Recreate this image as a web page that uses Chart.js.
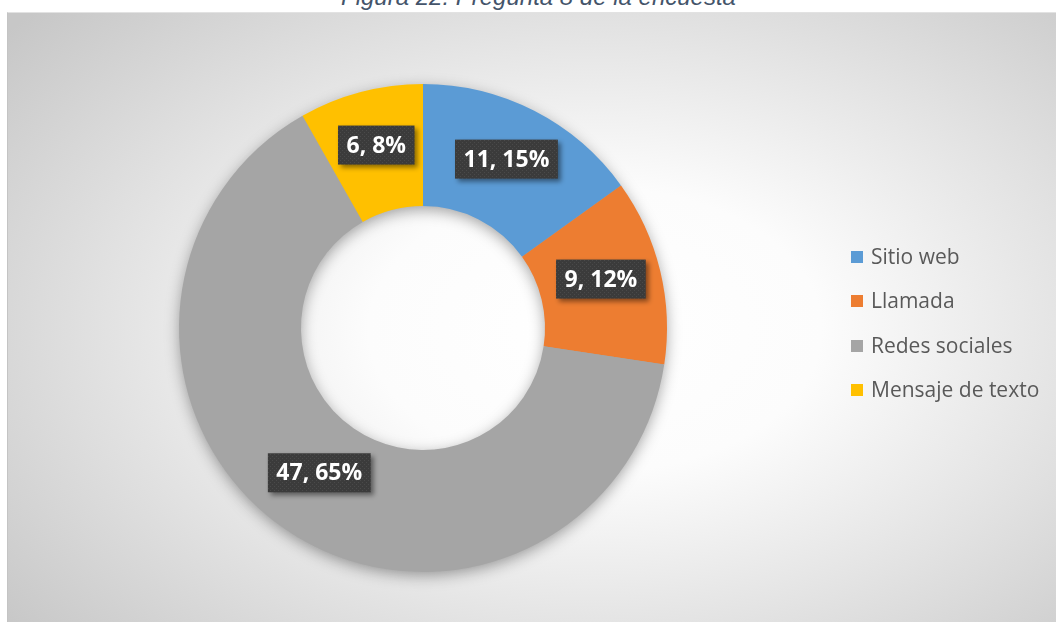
<!DOCTYPE html>
<html lang="es">
<head>
<meta charset="utf-8">
<title>Pregunta 8 de la encuesta</title>
<script src="https://cdn.jsdelivr.net/npm/chart.js@4.4.1/dist/chart.umd.min.js"></script>
<style>
  html, body { margin: 0; padding: 0; background: #fff; }
  body { width: 1056px; height: 622px; position: relative; overflow: hidden; }
  #caption {
    position: absolute; left: 0; width: 1077px; top: -15px;
    text-align: center; font: italic 24px/24px "Liberation Sans", Arial, sans-serif;
    color: #44546a;
  }
  #panel {
    position: absolute; left: 7px; top: 12px; width: 1049px; height: 610px;
    background: radial-gradient(ellipse 72% 78% at 56% 52%, #ffffff 0%, #fcfcfc 30%, #e4e4e4 62%, #c7c7c7 100%);
    border-left: 1px solid #c4c4c4; border-top: 1px solid #e2e2e2;
    box-sizing: border-box;
  }
  #chart { position: absolute; left: 0; top: 0; }
  #legend {
    position: absolute; left: 851px; top: 249px; margin: 0; padding: 0; list-style: none;
    font: 21px "Open Sans", sans-serif; color: #595959;
  }
  #legend li { height: 44.3px; display: flex; align-items: flex-start; }
  #legend span.box { width: 12px; height: 12px; margin: 2px 8px 0 0; flex: none; }
  #legend li div { line-height: 21px; margin-top: -3px; }
</style>
</head>
<body>
<div id="caption">Figura 22: Pregunta 8 de la encuesta</div>
<div id="panel"></div>
<canvas id="chart" width="1056" height="622"></canvas>
<ul id="legend"></ul>
<script>
const labels = ["Sitio web", "Llamada", "Redes sociales", "Mensaje de texto"];
const counts = [11, 9, 47, 6];
const percents = [15, 12, 65, 8];
const colors = ["#5b9bd5", "#ed7d31", "#a5a5a5", "#ffc000"];

// legend on the right, built from the same arrays
const legendEl = document.getElementById("legend");
labels.forEach((label, i) => {
  const li = document.createElement("li");
  const box = document.createElement("span");
  box.className = "box";
  box.style.background = colors[i];
  const text = document.createElement("div");
  text.textContent = label;
  li.appendChild(box);
  li.appendChild(text);
  legendEl.appendChild(li);
});

// dark dotted fill used behind the data labels
function makeLabelPattern(ctx) {
  const tile = document.createElement("canvas");
  tile.width = 4;
  tile.height = 4;
  const t = tile.getContext("2d");
  t.fillStyle = "#3b3b3b";
  t.fillRect(0, 0, 4, 4);
  t.fillStyle = "#4a4a4a";
  t.fillRect(0, 0, 1, 1);
  t.fillRect(2, 2, 1, 1);
  return ctx.createPattern(tile, "repeat");
}

// soft shadow under the whole ring, drawn once so slices don't shade each other
const ringShadow = {
  id: "ringShadow",
  beforeDatasetsDraw(chart) {
    const arc = chart.getDatasetMeta(0).data[0];
    if (!arc) return;
    const { x, y, innerRadius, outerRadius } = arc.getProps(["x", "y", "innerRadius", "outerRadius"], true);
    const ctx = chart.ctx;
    ctx.save();
    ctx.shadowColor = "rgba(0, 0, 0, 0.38)";
    ctx.shadowBlur = 15;
    ctx.shadowOffsetY = 4;
    ctx.fillStyle = "#a5a5a5";
    ctx.beginPath();
    ctx.arc(x, y, outerRadius - 1, 0, Math.PI * 2);
    ctx.arc(x, y, innerRadius + 1, Math.PI * 2, 0, true);
    ctx.fill();
    ctx.restore();
  },
};

// "value, percent" boxes at the middle of each slice
const sliceLabels = {
  id: "sliceLabels",
  afterDatasetsDraw(chart) {
    const ctx = chart.ctx;
    const pattern = makeLabelPattern(ctx);
    const meta = chart.getDatasetMeta(0);
    ctx.save();
    ctx.font = "bold 23px 'Open Sans', sans-serif";
    ctx.textAlign = "center";
    ctx.textBaseline = "middle";
    meta.data.forEach((arc, i) => {
      const pos = arc.tooltipPosition(true);
      const text = `${counts[i]}, ${percents[i]}%`;
      const w = ctx.measureText(text).width + 17;
      const h = 39;
      const cx = pos.x;
      const cy = pos.y - 6;
      ctx.save();
      ctx.shadowColor = "rgba(0, 0, 0, 0.45)";
      ctx.shadowBlur = 5;
      ctx.shadowOffsetX = 3;
      ctx.shadowOffsetY = 3;
      ctx.fillStyle = pattern;
      ctx.fillRect(cx - w / 2, cy - h / 2, w, h);
      ctx.restore();
      ctx.fillStyle = "#ffffff";
      ctx.fillText(text, cx, cy + 1);
    });
    ctx.restore();
  },
};

new Chart(document.getElementById("chart"), {
  type: "doughnut",
  data: {
    labels: labels,
    datasets: [{
      data: counts,
      backgroundColor: colors,
      borderWidth: 0,
    }],
  },
  options: {
    responsive: false,
    animation: false,
    cutout: "50%",
    layout: { padding: { left: 0, right: 210, top: 84, bottom: 50 } },
    plugins: {
      legend: { display: false },
      tooltip: { enabled: false },
    },
  },
  plugins: [ringShadow, sliceLabels],
});
</script>
</body>
</html>
